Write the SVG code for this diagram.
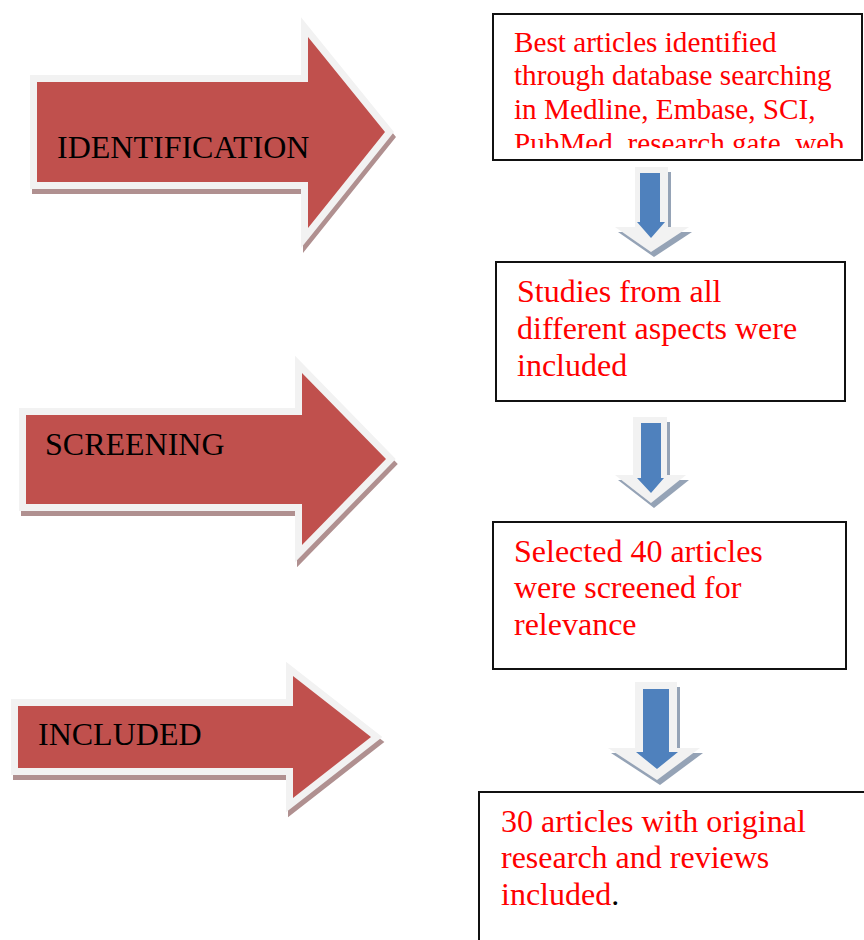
<svg xmlns="http://www.w3.org/2000/svg" width="864" height="940" viewBox="0 0 864 940">
<style>
.big{fill:#c0504d;stroke:#f2f2f2;stroke-width:14;stroke-miterlimit:10;paint-order:stroke}
.bigsh{fill:#b09090;stroke:#b09090;stroke-width:14;stroke-miterlimit:10}
.lbl{font-family:"Liberation Serif","Times New Roman",serif;font-size:32px;fill:#000}
.box{fill:#fff;stroke:#111;stroke-width:2}
.txt{font-family:"Liberation Serif","Times New Roman",serif;font-size:32px;fill:#ff0000}
.dout{fill:#f2f2f2}
.dsh{fill:#95a3b6}
.dblue{fill:#4f81bd}
</style>
<defs>
<clipPath id="c1"><rect x="494" y="15" width="368" height="133"/></clipPath>
</defs>

<g id="stage-identification">
<polygon class="bigsh" transform="translate(2,5)" points="37,82 308,82 308,37 385,132 308,228 308,182 37,182"/>
<polygon class="big" points="37,82 308,82 308,37 385,132 308,228 308,182 37,182"/>
<text class="lbl" x="57" y="158">IDENTIFICATION</text>
</g>

<g id="stage-screening">
<polygon class="bigsh" transform="translate(2,5)" points="26,415 302,415 302,373 386,459 302,545 302,504 26,504"/>
<polygon class="big" points="26,415 302,415 302,373 386,459 302,545 302,504 26,504"/>
<text class="lbl" x="45" y="455">SCREENING</text>
</g>

<g id="stage-included">
<polygon class="bigsh" transform="translate(2,5)" points="18,706 293,706 293,676 371,737 293,798 293,768 18,768"/>
<polygon class="big" points="18,706 293,706 293,676 371,737 293,798 293,768 18,768"/>
<text class="lbl" x="38" y="745">INCLUDED</text>
</g>

<g id="box-identified">
<rect class="box" x="493" y="14" width="369" height="146"/>
<g clip-path="url(#c1)">
<text class="txt" style="font-size:29.2px" x="514" y="52">Best articles identified</text>
<text class="txt" style="font-size:29.2px" x="514" y="85">through database searching</text>
<text class="txt" style="font-size:29.2px" x="514" y="119">in Medline, Embase, SCI,</text>
<text class="txt" style="font-size:29.2px" x="514" y="153">PubMed, research gate, web</text>
</g>
</g>

<g id="box-studies">
<rect class="box" x="496" y="262" width="349" height="139"/>
<text class="txt" x="517" y="302">Studies from all</text>
<text class="txt" x="517" y="339">different aspects were</text>
<text class="txt" x="517" y="376">included</text>
</g>

<g id="box-selected">
<rect class="box" x="493" y="522" width="353" height="147"/>
<text class="txt" x="514" y="562">Selected 40 articles</text>
<text class="txt" x="514" y="598">were screened for</text>
<text class="txt" x="514" y="635">relevance</text>
</g>

<g id="box-final">
<rect class="box" x="479" y="792" width="420" height="200"/>
<text class="txt" x="501" y="832">30 articles with original</text>
<text class="txt" x="501" y="868">research and reviews</text>
<text class="txt" x="501" y="905">included<tspan fill="#000">.</tspan></text>
</g>

<g id="connectors">
<g>
<polygon class="dsh" transform="translate(3,5)" points="635,167 668,167 668,227 689,227 651,252 615,227 635,227"/>
<polygon class="dout" points="635,167 668,167 668,227 689,227 651,252 615,227 635,227"/>
<polygon class="dblue" points="640,173 660,173 660,222 665,222 651,238 637,222 640,222"/>
</g>
<g>
<polygon class="dsh" transform="translate(3,5)" points="633,417 667,417 667,475 686,475 651,503 615,475 633,475"/>
<polygon class="dout" points="633,417 667,417 667,475 686,475 651,503 615,475 633,475"/>
<polygon class="dblue" points="641,423 661,423 661,478 664,478 651,493 637,478 641,478"/>
</g>
<g>
<polygon class="dsh" transform="translate(3,5)" points="635,682 677,682 677,748 700,748 657,780 608,748 635,748"/>
<polygon class="dout" points="635,682 677,682 677,748 700,748 657,780 608,748 635,748"/>
<polygon class="dblue" points="643,689 669,689 669,752 678,752 657,769 636,752 643,752"/>
</g>
</g>
</svg>
